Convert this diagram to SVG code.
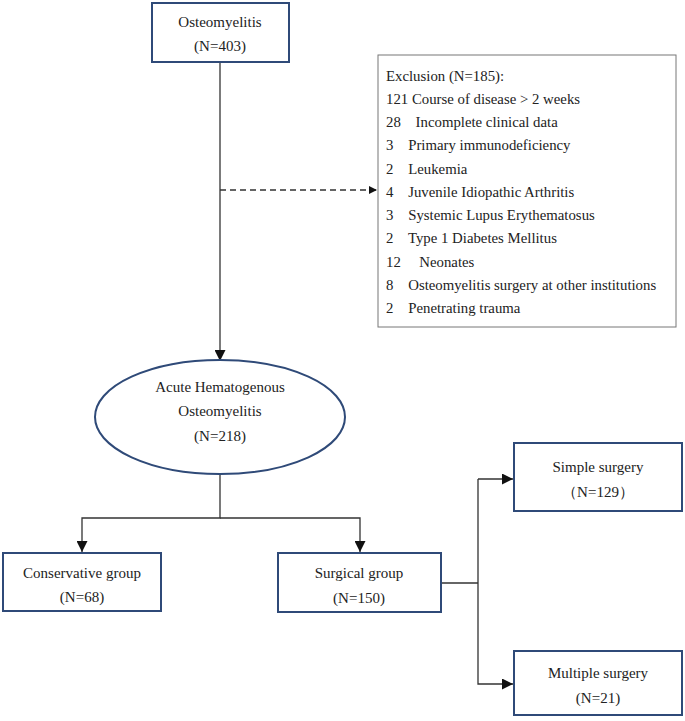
<svg xmlns="http://www.w3.org/2000/svg" width="685" height="721" viewBox="0 0 685 721">
<style>
.n{fill:#fff;stroke:#2f4a78;stroke-width:2}
.t{font-family:"Liberation Serif",serif;font-size:15px;fill:#222;text-anchor:middle}
.e{font-family:"Liberation Serif",serif;font-size:14.8px;fill:#222}
.c{fill:none;stroke:#333;stroke-width:1.3}
</style>
<defs><marker id="a" viewBox="0 0 10 10" refX="10" refY="5" markerWidth="8" markerHeight="8" markerUnits="userSpaceOnUse" orient="auto"><path d="M0,0L10,5L0,10z" fill="#111"/></marker>
<marker id="b" viewBox="0 0 10 10" refX="10" refY="5" markerWidth="11" markerHeight="11" markerUnits="userSpaceOnUse" orient="auto"><path d="M0,0L10,5L0,10z" fill="#111"/></marker></defs>
<rect width="685" height="721" fill="#fff"/>
<g id="connectors">
<path class="c" d="M220,62V361" marker-end="url(#b)"/>
<path class="c" d="M220,190H377" stroke-dasharray="6,4" marker-end="url(#a)"/>
<path class="c" d="M220,474V518H82V552" marker-end="url(#b)"/>
<path class="c" d="M220,518H360V552" marker-end="url(#b)"/>
<path class="c" d="M441,583H478"/>
<path class="c" d="M478,479V684H513" marker-end="url(#b)"/>
<path class="c" d="M478,479H513" marker-end="url(#b)"/>
</g>
<g id="osteomyelitis"><rect class="n" x="152" y="3" width="137" height="59"/><text class="t" x="220" y="27">Osteomyelitis</text><text class="t" x="220" y="51">(N=403)</text></g>
<g id="exclusion"><rect x="378" y="55" width="298" height="272" fill="#fff" stroke="#777" stroke-width="1"/>
<text class="e" x="386" y="81">Exclusion (N=185):</text>
<text class="e" x="386" y="104">121 Course of disease &gt; 2 weeks</text>
<text class="e" x="386" y="127" xml:space="preserve">28    Incomplete clinical data</text>
<text class="e" x="386" y="150" xml:space="preserve">3    Primary immunodeficiency</text>
<text class="e" x="386" y="174" xml:space="preserve">2    Leukemia</text>
<text class="e" x="386" y="197" xml:space="preserve">4    Juvenile Idiopathic Arthritis</text>
<text class="e" x="386" y="220" xml:space="preserve">3    Systemic Lupus Erythematosus</text>
<text class="e" x="386" y="243" xml:space="preserve">2    Type 1 Diabetes Mellitus</text>
<text class="e" x="386" y="267" xml:space="preserve">12     Neonates</text>
<text class="e" x="386" y="290" xml:space="preserve">8    Osteomyelitis surgery at other institutions</text>
<text class="e" x="386" y="313" xml:space="preserve">2    Penetrating trauma</text></g>
<g id="ahom"><ellipse class="n" cx="220" cy="417" rx="125" ry="57"/><text class="t" x="220" y="392">Acute Hematogenous</text><text class="t" x="220" y="416">Osteomyelitis</text><text class="t" x="220" y="441">(N=218)</text></g>
<g id="conservative"><rect class="n" x="3" y="553" width="158" height="58"/><text class="t" x="82" y="578">Conservative group</text><text class="t" x="82" y="602">(N=68)</text></g>
<g id="surgical"><rect class="n" x="278" y="553" width="163" height="59"/><text class="t" x="359" y="578">Surgical group</text><text class="t" x="359" y="603">(N=150)</text></g>
<g id="simple"><rect class="n" x="514" y="443" width="168" height="68"/><text class="t" x="598" y="472">Simple surgery</text><text class="t" x="598" y="497">（N=129）</text></g>
<g id="multiple"><rect class="n" x="514" y="651" width="168" height="64"/><text class="t" x="598" y="678">Multiple surgery</text><text class="t" x="598" y="703">(N=21)</text></g>
</svg>
